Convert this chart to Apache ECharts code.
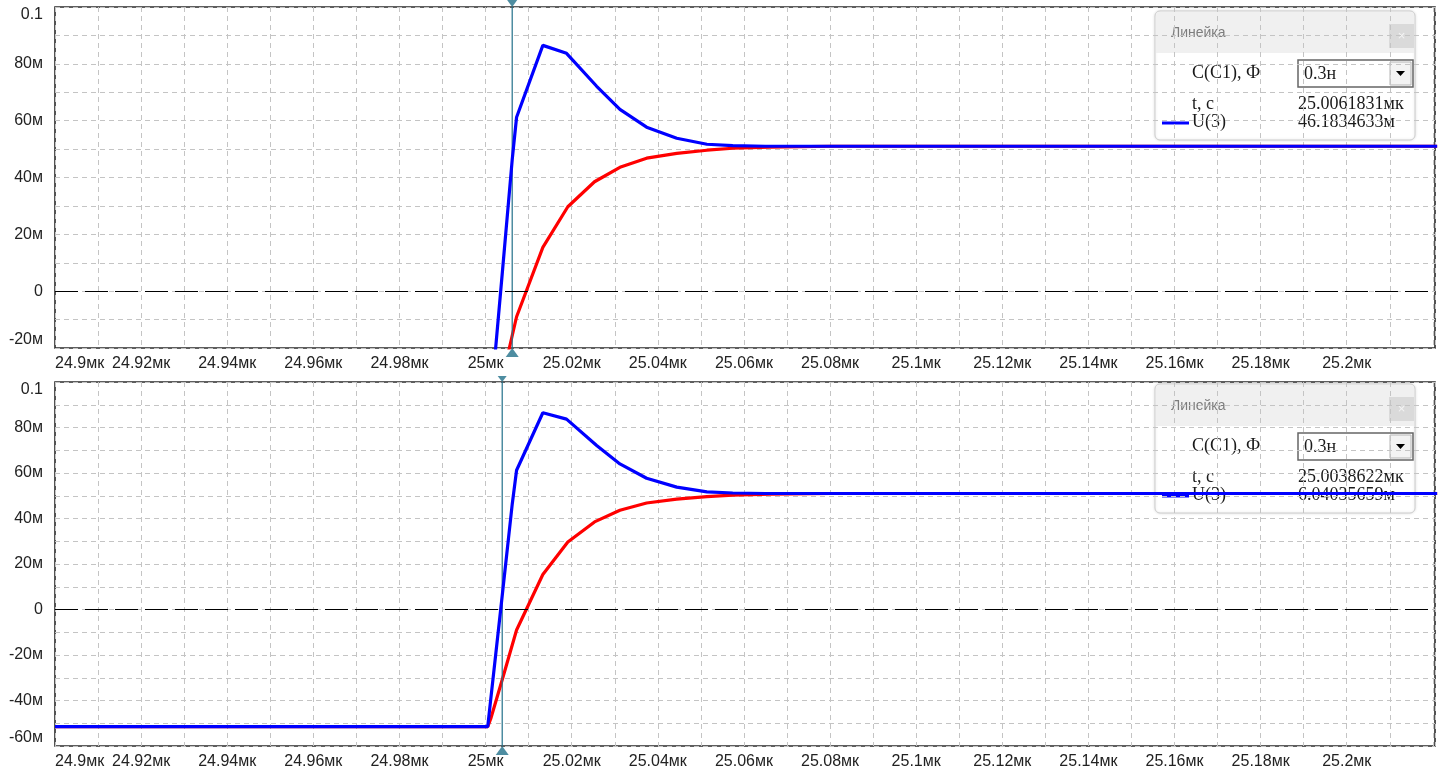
<!DOCTYPE html>
<html>
<head>
<meta charset="utf-8">
<script src="https://cdn.jsdelivr.net/npm/echarts@6/dist/echarts.min.js"></script>
<style>
html,body{margin:0;padding:0;background:#fff;}
#c{width:1444px;height:775px;}
</style>
</head>
<body>
<div id="c"></div>
<script>
// ---- data (time in µs, voltage in mV) ----
const tBlue = [24.9, 25.0005, 25.0038622, 25.0061831, 25.0072, 25.0133, 25.0188, 25.0258, 25.0312, 25.0374, 25.0444, 25.0514, 25.0574, 25.065, 25.221];
const uBlue = [-51.5, -51.5, 6.04035659, 46.1834633, 61.2, 86.5, 83.7, 72.1, 64.0, 57.7, 53.8, 51.7, 51.2, 51.0, 51.0];
const tRed = [24.9, 25.0005, 25.0012, 25.004, 25.0072, 25.0133, 25.0191, 25.0253, 25.0312, 25.0374, 25.0444, 25.0514, 25.0574, 25.066, 25.08, 25.221];
const uRed = [-51.5, -51.5, -48, -30, -9, 15.4, 29.7, 38.5, 43.6, 46.8, 48.5, 49.6, 50.3, 50.7, 51.0, 51.0];

const cursorT = [25.0061831, 25.0038622];            // ruler positions, µs
const cursorTxt = ['25.0061831мк', '25.0038622мк'];
const cursorU = ['46.1834633м', '6.04035659м'];
const capText = '0.3н';

const xMin = 24.9, xMax = 25.2205, xStep = 0.02;
const yTop = {min: -20, max: 100};
const yBot = {min: -60, max: 100};
const yStep = 20;

// ---- helpers ----
const pairs = (t, u) => t.map((v, i) => [v, u[i]]);
const fmtX = v => (v > 25.21 ? '' : (+v.toFixed(3)) + 'мк');
const fmtY = v => {
  const r = Math.round(v * 1000) / 1000;
  if (r === 0) return '0';
  if (Math.abs(r) >= 100) return String(+(r / 1000).toFixed(3));
  return r + 'м';
};

const FONT = '"Liberation Sans", Arial, sans-serif';
const SERIF = '"Liberation Serif", "Times New Roman", serif';
const gridLine = {color: '#c4c4c4', type: [5, 4], width: 1};
const cursorColor = '#22708a';

const grids = [
  {left: 55, right: 9, top: 7, height: 341},
  {left: 55, right: 9, top: 382, height: 364}
];

function xAxis(i) {
  return {
    type: 'value', gridIndex: i, min: xMin, max: xMax, interval: xStep,
    axisLine: {show: false}, axisTick: {show: false},
    axisLabel: {formatter: fmtX, color: '#222', fontSize: 16, fontFamily: FONT, margin: 8,
      alignMinLabel: 'left', showMaxLabel: false},
    splitLine: {show: true, lineStyle: gridLine},
    minorTick: {show: false, splitNumber: 2},
    minorSplitLine: {show: true, lineStyle: gridLine}
  };
}
function yAxis(i, r) {
  return {
    type: 'value', gridIndex: i, min: r.min, max: r.max, interval: yStep,
    axisLine: {show: false}, axisTick: {show: false},
    axisLabel: {formatter: fmtY, color: '#222', fontSize: 16, fontFamily: FONT, margin: 12,
      verticalAlignMaxLabel: 'top', verticalAlignMinLabel: 'bottom'},
    splitLine: {show: true, lineStyle: gridLine},
    minorTick: {show: false, splitNumber: 2},
    minorSplitLine: {show: true, lineStyle: gridLine}
  };
}

function curveSeries(i, color, data, z, extra) {
  return Object.assign({
    type: 'line', xAxisIndex: i, yAxisIndex: i, data: data, z: z,
    showSymbol: false, symbol: 'none', animation: false, silent: true,
    lineStyle: {color: color, width: 3.2}
  }, extra || {});
}

function zeroLine() {
  return {silent: true, symbol: 'none', label: {show: false}, animation: false,
    lineStyle: {color: '#000', width: 1.2, type: [23, 7]},
    data: [{yAxis: 0}]};
}
function cursorSeries(i, r) {
  return {
    type: 'line', xAxisIndex: i, yAxisIndex: i, z: 2.5, silent: true, animation: false,
    showSymbol: false, symbol: 'none',
    lineStyle: {color: cursorColor, width: 1.2},
    data: [[cursorT[i], r.min], [cursorT[i], r.max]]
  };
}
function markerSeries(i, r, topSize) {
  return {
    type: 'scatter', xAxisIndex: i, yAxisIndex: i, clip: false, z: 10, silent: true, animation: false,
    itemStyle: {color: cursorColor},
    data: [
      {value: [cursorT[i], r.max], symbol: 'triangle', symbolRotate: 180, symbolSize: topSize, symbolOffset: [0, -topSize[1] / 2]},
      {value: [cursorT[i], r.min], symbol: 'triangle', symbolRotate: 0, symbolSize: [13, 9], symbolOffset: [0, 4.5]}
    ]
  };
}

function ruler(y0, idx) {
  const x0 = 1155, w = 260, h = 129;
  const serif = '18px ' + SERIF;
  return {
    type: 'group', z: 100, children: [
      {type: 'rect', shape: {x: x0, y: y0, width: w, height: h, r: 5},
        style: {fill: '#fff', stroke: '#cdcdcd', lineWidth: 1, shadowBlur: 3, shadowColor: 'rgba(0,0,0,0.12)'}},
      {type: 'rect', shape: {x: x0 + 1, y: y0 + 1, width: w - 2, height: 41, r: [4, 4, 0, 0]},
        style: {fill: '#f0f0f0'}},
      {type: 'text', x: x0 + 16, y: y0 + 22, style: {text: 'Линейка', fill: '#7d7d7d', font: '14px ' + FONT, verticalAlign: 'middle'}},
      {type: 'rect', shape: {x: 1389, y: y0 + 13, width: 25, height: 24}, style: {fill: '#dadada'}},
      {type: 'text', x: 1401.5, y: y0 + 25, style: {text: '×', fill: '#f4f4f4', font: '13px ' + FONT, align: 'center', verticalAlign: 'middle'}},
      {type: 'text', x: 1192, y: y0 + 62, style: {text: 'C(C1), Ф', fill: '#1a1a1a', font: serif, verticalAlign: 'middle'}},
      {type: 'rect', shape: {x: 1298, y: y0 + 49, width: 115, height: 27}, style: {fill: '#fff', stroke: '#666', lineWidth: 1.5}},
      {type: 'text', x: 1304, y: y0 + 63, style: {text: capText, fill: '#1a1a1a', font: serif, verticalAlign: 'middle'}},
      {type: 'rect', shape: {x: 1390, y: y0 + 51, width: 21, height: 23}, style: {fill: '#f3f3f3', stroke: '#b5b5b5', lineWidth: 1}},
      {type: 'polygon', shape: {points: [[1396, y0 + 60], [1405, y0 + 60], [1400.5, y0 + 65]]}, style: {fill: '#000'}},
      {type: 'text', x: 1192, y: y0 + 93, style: {text: 't, c', fill: '#1a1a1a', font: serif, verticalAlign: 'middle'}},
      {type: 'text', x: 1298, y: y0 + 93, style: {text: cursorTxt[idx], fill: '#1a1a1a', font: serif, verticalAlign: 'middle'}},
      {type: 'line', shape: {x1: 1162, y1: y0 + 112, x2: 1189, y2: y0 + 112}, style: {stroke: '#0000ff', lineWidth: 3}},
      {type: 'text', x: 1192, y: y0 + 111, style: {text: 'U(3)', fill: '#1a1a1a', font: serif, verticalAlign: 'middle'}},
      {type: 'text', x: 1298, y: y0 + 111, style: {text: cursorU[idx], fill: '#1a1a1a', font: serif, verticalAlign: 'middle'}}
    ]
  };
}

const chart = echarts.init(document.getElementById('c'), null, {renderer: 'canvas'});
chart.setOption({
  animation: false,
  backgroundColor: '#fff',
  grid: grids.map(g => Object.assign({show: true, borderColor: '#2a2a2a', borderWidth: 1.6, backgroundColor: 'transparent'}, g)),
  xAxis: [xAxis(0), xAxis(1)],
  yAxis: [yAxis(0, yTop), yAxis(1, yBot)],
  series: [
    curveSeries(0, '#ff0000', pairs(tRed, uRed), 2, {markLine: zeroLine()}),
    cursorSeries(0, yTop),
    curveSeries(0, '#0000ff', pairs(tBlue, uBlue), 3),
    markerSeries(0, yTop, [13, 9]),
    curveSeries(1, '#ff0000', pairs(tRed, uRed), 2, {markLine: zeroLine()}),
    cursorSeries(1, yBot),
    curveSeries(1, '#0000ff', pairs(tBlue, uBlue), 3),
    markerSeries(1, yBot, [9, 6])
  ],
  graphic: [ruler(11, 0), ruler(384, 1)]
});
</script>
</body>
</html>
